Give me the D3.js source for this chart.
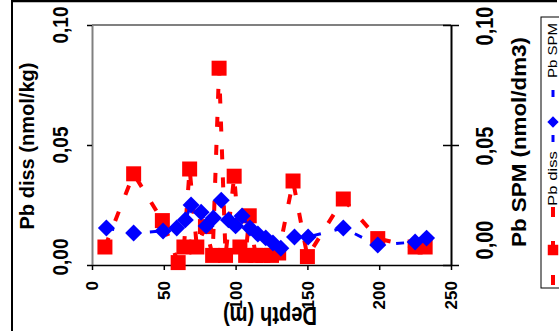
<!DOCTYPE html>
<html>
<head>
<meta charset="utf-8">
<script src="https://cdn.jsdelivr.net/npm/d3@7"></script>
<style>
  html, body { margin: 0; padding: 0; background: #fff; }
  svg { display: block; }
  text { font-family: "Liberation Sans", Arial, sans-serif; }
</style>
</head>
<body>
<svg id="chart" width="559" height="331"></svg>
<script>
// ---- data ----
const xTicks = [0, 50, 100, 150, 200, 250];
const yTicks = [0, 0.05, 0.10];
const xTitle = "Depth (m)";
const yTitleLeft = "Pb diss (nmol/kg)";
const yTitleRight = "Pb SPM (nmol/dm3)";
const seriesNames = ["Pb diss", "Pb SPM"];

const depthDiss = [9, 29, 49, 60, 64, 68, 73, 79, 84, 88.5, 93, 99, 103, 107, 109.5, 114, 119, 125, 130, 140, 150, 175, 199, 225, 232];
const pbDiss    = [0.0075, 0.038, 0.0185, 0.001, 0.0075, 0.040, 0.0075, 0.016, 0.004, 0.082, 0.004, 0.037, 0.0075, 0.004, 0.0205, 0.004, 0.004, 0.004, 0.005, 0.035, 0.0035, 0.0275, 0.011, 0.0075, 0.0075];

const depthSpm = [10, 29, 49.5, 59, 65, 69, 76, 79.5, 84.5, 90, 95, 100, 104.5, 110, 115.5, 121, 126, 131.5, 141, 150.5, 175, 199, 225, 233];
const pbSpm    = [0.0154, 0.0133, 0.0142, 0.0154, 0.0188, 0.025, 0.022, 0.0163, 0.0196, 0.027, 0.0188, 0.0163, 0.0204, 0.0154, 0.0129, 0.0113, 0.0092, 0.007, 0.0117, 0.0117, 0.0154, 0.0083, 0.0096, 0.0112];

// ---- drawing ----
const RED = "#ff0000", BLUE = "#0000ff";
const svg = d3.select("#chart");
const x = d3.scaleLinear().domain([0, 250]).range([92, 451]);
const y = d3.scaleLinear().domain([0, 0.1]).range([265, 25]);
const fmt = d3.formatLocale({decimal: ",", thousands: ".", grouping: [3], currency: ["", ""]}).format(".2f");

svg.append("rect").attr("width", 559).attr("height", 331).attr("fill", "#fff");

// outer border
svg.append("line").attr("x1", 12).attr("x2", 557).attr("y1", 1).attr("y2", 1).attr("stroke", "#000").attr("stroke-width", 2.5);
svg.append("line").attr("x1", 12).attr("x2", 12).attr("y1", 0).attr("y2", 331).attr("stroke", "#000").attr("stroke-width", 2);

// plot frame top
svg.append("line").attr("x1", x(0)).attr("x2", x(250)).attr("y1", y(0.1)).attr("y2", y(0.1)).attr("stroke", "#808080").attr("stroke-width", 2);

// left axis
const gl = svg.append("g").attr("transform", `translate(${x(0)},0)`)
  .call(d3.axisLeft(y).tickValues(yTicks).tickSize(5).tickSizeOuter(0).tickFormat(""));
gl.select(".domain").attr("stroke", "#808080").attr("stroke-width", 2);
gl.selectAll(".tick line").attr("stroke", "#000").attr("stroke-width", 1.5);

// right axis
const gr = svg.append("g").attr("transform", `translate(${x(250)},0)`)
  .call(d3.axisRight(y).tickValues(yTicks).tickSize(8).tickSizeOuter(0).tickFormat(""));
gr.select(".domain").attr("stroke", "#000").attr("stroke-width", 2);
gr.selectAll(".tick line").attr("x1", -8).attr("stroke", "#000").attr("stroke-width", 1.5);

// bottom axis
const gb = svg.append("g").attr("transform", `translate(0,${y(0)})`)
  .call(d3.axisBottom(x).tickValues(xTicks).tickSize(5).tickSizeOuter(0).tickFormat(""));
gb.select(".domain").attr("stroke", "#000").attr("stroke-width", 1.5);
gb.selectAll(".tick line").attr("stroke", "#000").attr("stroke-width", 1.5);

// x tick labels (rotated)
svg.append("g").selectAll("text").data(xTicks).join("text")
  .attr("transform", d => `translate(${x(d)},281) rotate(-90)`)
  .attr("text-anchor", "end").attr("dy", "0.36em")
  .attr("font-size", 17).attr("font-weight", "bold").text(d => d);

// left y tick labels
svg.append("g").selectAll("text").data(yTicks).join("text")
  .attr("transform", d => `translate(68,${Math.min(y(d), 257)}) rotate(-90) scale(1,1.2)`)
  .attr("text-anchor", "middle").attr("textLength", 37).attr("lengthAdjust", "spacingAndGlyphs")
  .attr("font-size", 19).attr("font-weight", "bold").text(d => fmt(d));

// right y tick labels
svg.append("g").selectAll("text").data(yTicks).join("text")
  .attr("transform", d => `translate(493,${Math.min(y(d) + 1, 240)}) rotate(-90) scale(1,1.22)`)
  .attr("text-anchor", "middle").attr("textLength", 39).attr("lengthAdjust", "spacingAndGlyphs")
  .attr("font-size", 19).attr("font-weight", "bold").text(d => fmt(d));

// axis titles
svg.append("text").attr("transform", "translate(34,146) rotate(-90)")
  .attr("text-anchor", "middle").attr("textLength", 167).attr("lengthAdjust", "spacingAndGlyphs")
  .attr("font-size", 20).attr("font-weight", "bold").text(yTitleLeft);
svg.append("text").attr("transform", "translate(526,142) rotate(-90)")
  .attr("text-anchor", "middle").attr("textLength", 210).attr("lengthAdjust", "spacingAndGlyphs")
  .attr("font-size", 21).attr("font-weight", "bold").text(yTitleRight);
svg.append("text").attr("transform", "translate(270,307) rotate(180) scale(1,1.25)")
  .attr("text-anchor", "middle").attr("textLength", 94).attr("lengthAdjust", "spacingAndGlyphs")
  .attr("font-size", 20).attr("font-weight", "bold").text(xTitle);

// series
const diss = depthDiss.map((d, i) => [d, pbDiss[i]]);
const spm = depthSpm.map((d, i) => [d, pbSpm[i]]);
const line = d3.line().x(d => x(d[0])).y(d => y(d[1]));

svg.append("path").datum(diss).attr("d", line).attr("fill", "none")
  .attr("stroke", RED).attr("stroke-width", 4).attr("stroke-dasharray", "10,18");
svg.append("g").selectAll("path").data(diss).join("path")
  .attr("transform", d => `translate(${x(d[0])},${y(d[1])})`)
  .attr("d", d3.symbol(d3.symbolSquare, 225)()).attr("fill", RED);

svg.append("path").datum(spm).attr("d", line).attr("fill", "none")
  .attr("stroke", BLUE).attr("stroke-width", 3).attr("stroke-dasharray", "8,14");
svg.append("g").selectAll("path").data(spm).join("path")
  .attr("transform", d => `translate(${x(d[0])},${y(d[1])}) rotate(45)`)
  .attr("d", d3.symbol(d3.symbolSquare, 144)()).attr("fill", BLUE);

// legend
svg.append("rect").attr("x", 541).attr("y", 17).attr("width", 40).attr("height", 271)
  .attr("fill", "#fff").attr("stroke", "#000").attr("stroke-width", 1);
svg.append("line").attr("x1", 553).attr("x2", 553).attr("y1", 207).attr("y2", 286)
  .attr("stroke", RED).attr("stroke-width", 4).attr("stroke-dasharray", "10,24");
svg.append("path").attr("transform", "translate(553,250)")
  .attr("d", d3.symbol(d3.symbolSquare, 110)()).attr("fill", RED);
svg.append("line").attr("x1", 553).attr("x2", 553).attr("y1", 90).attr("y2", 142)
  .attr("stroke", BLUE).attr("stroke-width", 3).attr("stroke-dasharray", "7,38");
svg.append("path").attr("transform", "translate(553,122) rotate(45)")
  .attr("d", d3.symbol(d3.symbolSquare, 64)()).attr("fill", BLUE);
svg.append("text").attr("transform", "translate(557,206) rotate(-90)")
  .attr("textLength", 55).attr("lengthAdjust", "spacingAndGlyphs")
  .attr("font-size", 12).text(seriesNames[0]);
svg.append("text").attr("transform", "translate(557,78) rotate(-90)")
  .attr("textLength", 55).attr("lengthAdjust", "spacingAndGlyphs")
  .attr("font-size", 12).text(seriesNames[1]);
</script>
</body>
</html>
